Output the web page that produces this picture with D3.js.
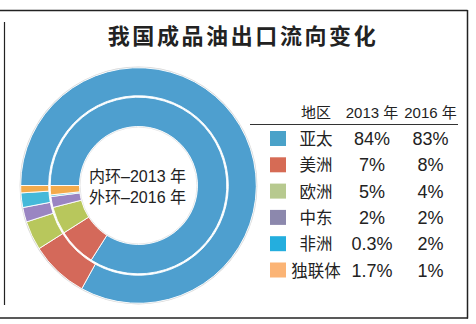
<!DOCTYPE html>
<html><head><meta charset="utf-8">
<script src="https://cdn.jsdelivr.net/npm/d3@7"></script>
<style>
html,body{margin:0;padding:0;background:#fff;}
svg{display:block;}
text{font-family:"Liberation Sans","Noto Sans CJK SC",sans-serif;fill:#222;}
</style></head>
<body>
<svg id="chart" width="476" height="324"></svg>
<script>
const title = "我国成品油出口流向变化";
const regions = ["亚太","美洲","欧洲","中东","非洲","独联体"];
const values2013 = [84,7,5,2,0.3,1.7];
const values2016 = [83,8,4,2,2,1];
const labels2013 = ["84%","7%","5%","2%","0.3%","1.7%"];
const labels2016 = ["83%","8%","4%","2%","2%","1%"];
const headers = ["地区","2013 年","2016 年"];
const centerLabels = ["内环–2013 年","外环–2016 年"];
const ringColors = ["#4e9fcf","#d4695a","#b8c75c","#9a85c2","#45b9d9","#f3aa4b"];
const legendColors = ["#4aa2c9","#d66b55","#b7c98f","#8c88ad","#24aede","#fbb475"];

const svg = d3.select("#chart");

// frame
svg.append("line").attr("x1",0).attr("x2",467.5).attr("y1",10.5).attr("y2",10.5).attr("stroke","#222").attr("stroke-width",1.5);
svg.append("line").attr("x1",467.5).attr("x2",467.5).attr("y1",10).attr("y2",318.5).attr("stroke","#222").attr("stroke-width",1.5);
svg.append("line").attr("x1",0).attr("x2",468).attr("y1",318).attr("y2",318).attr("stroke","#222").attr("stroke-width",1.5);
svg.append("line").attr("x1",4.5).attr("x2",4.5).attr("y1",22).attr("y2",305).attr("stroke","#222").attr("stroke-width",1.2);

// title
svg.append("text").attr("x",243).attr("y",44).attr("text-anchor","middle")
  .style("font-family","'Noto Sans CJK SC',sans-serif").style("font-weight","bold")
  .style("font-size","22px").style("letter-spacing","2.6px").text(title);

// donut
const cx = 138.5, cy = 185.5;
const g = svg.append("g").attr("transform",`translate(${cx},${cy})`);
const pie = d3.pie().sort(null).startAngle(-Math.PI/2).endAngle(3*Math.PI/2);
const color = d3.scaleOrdinal().domain(regions).range(ringColors);

g.append("circle").attr("r",118.3).attr("fill","none").attr("stroke","#d8d8d8").attr("stroke-width",1.2);
g.append("circle").attr("r",58.6).attr("fill","none").attr("stroke","#e0e0e0").attr("stroke-width",1);

const innerArc = d3.arc().innerRadius(59).outerRadius(88.3);
const outerArc = d3.arc().innerRadius(89.8).outerRadius(117.8);

g.selectAll("path.inner").data(pie(values2013)).join("path").attr("class","inner")
  .attr("d",innerArc).attr("fill",(d,i)=>color(regions[i]))
  .attr("stroke","#fff").attr("stroke-width",0.9);
g.selectAll("path.outer").data(pie(values2016)).join("path").attr("class","outer")
  .attr("d",outerArc).attr("fill",(d,i)=>color(regions[i]))
  .attr("stroke","#fff").attr("stroke-width",0.9);

g.selectAll("text.center").data(centerLabels).join("text").attr("class","center")
  .attr("x",-1).attr("y",(d,i)=>-3.5+i*20.5).attr("text-anchor","middle")
  .style("font-size","16px").text(d=>d);

// legend table
const colX = [316, 372, 430.5];
svg.selectAll("text.hdr").data(headers).join("text").attr("class","hdr")
  .attr("x",(d,i)=>colX[i]).attr("y",117.5).attr("text-anchor","middle")
  .style("font-size","15px").text(d=>d);
svg.append("line").attr("x1",250).attr("x2",458).attr("y1",124.5).attr("y2",124.5).attr("stroke","#333").attr("stroke-width",1.2);

const rowY = d3.scalePoint().domain(regions).range([138.5, 270]);
const rows = svg.selectAll("g.row").data(regions).join("g").attr("class","row")
  .attr("transform",d=>`translate(0,${rowY(d)})`);
rows.append("rect").attr("x",270).attr("y",-7.5).attr("width",16).attr("height",15)
  .attr("fill",(d,i)=>legendColors[i]);
rows.append("text").attr("x",colX[0]).attr("y",6.5).attr("text-anchor","middle")
  .style("font-size","16.5px").text(d=>d);
rows.append("text").attr("x",colX[1]).attr("y",6.5).attr("text-anchor","middle")
  .style("font-size","18px").text((d,i)=>labels2013[i]);
rows.append("text").attr("x",colX[2]).attr("y",6.5).attr("text-anchor","middle")
  .style("font-size","18px").text((d,i)=>labels2016[i]);
</script>
</body></html>
